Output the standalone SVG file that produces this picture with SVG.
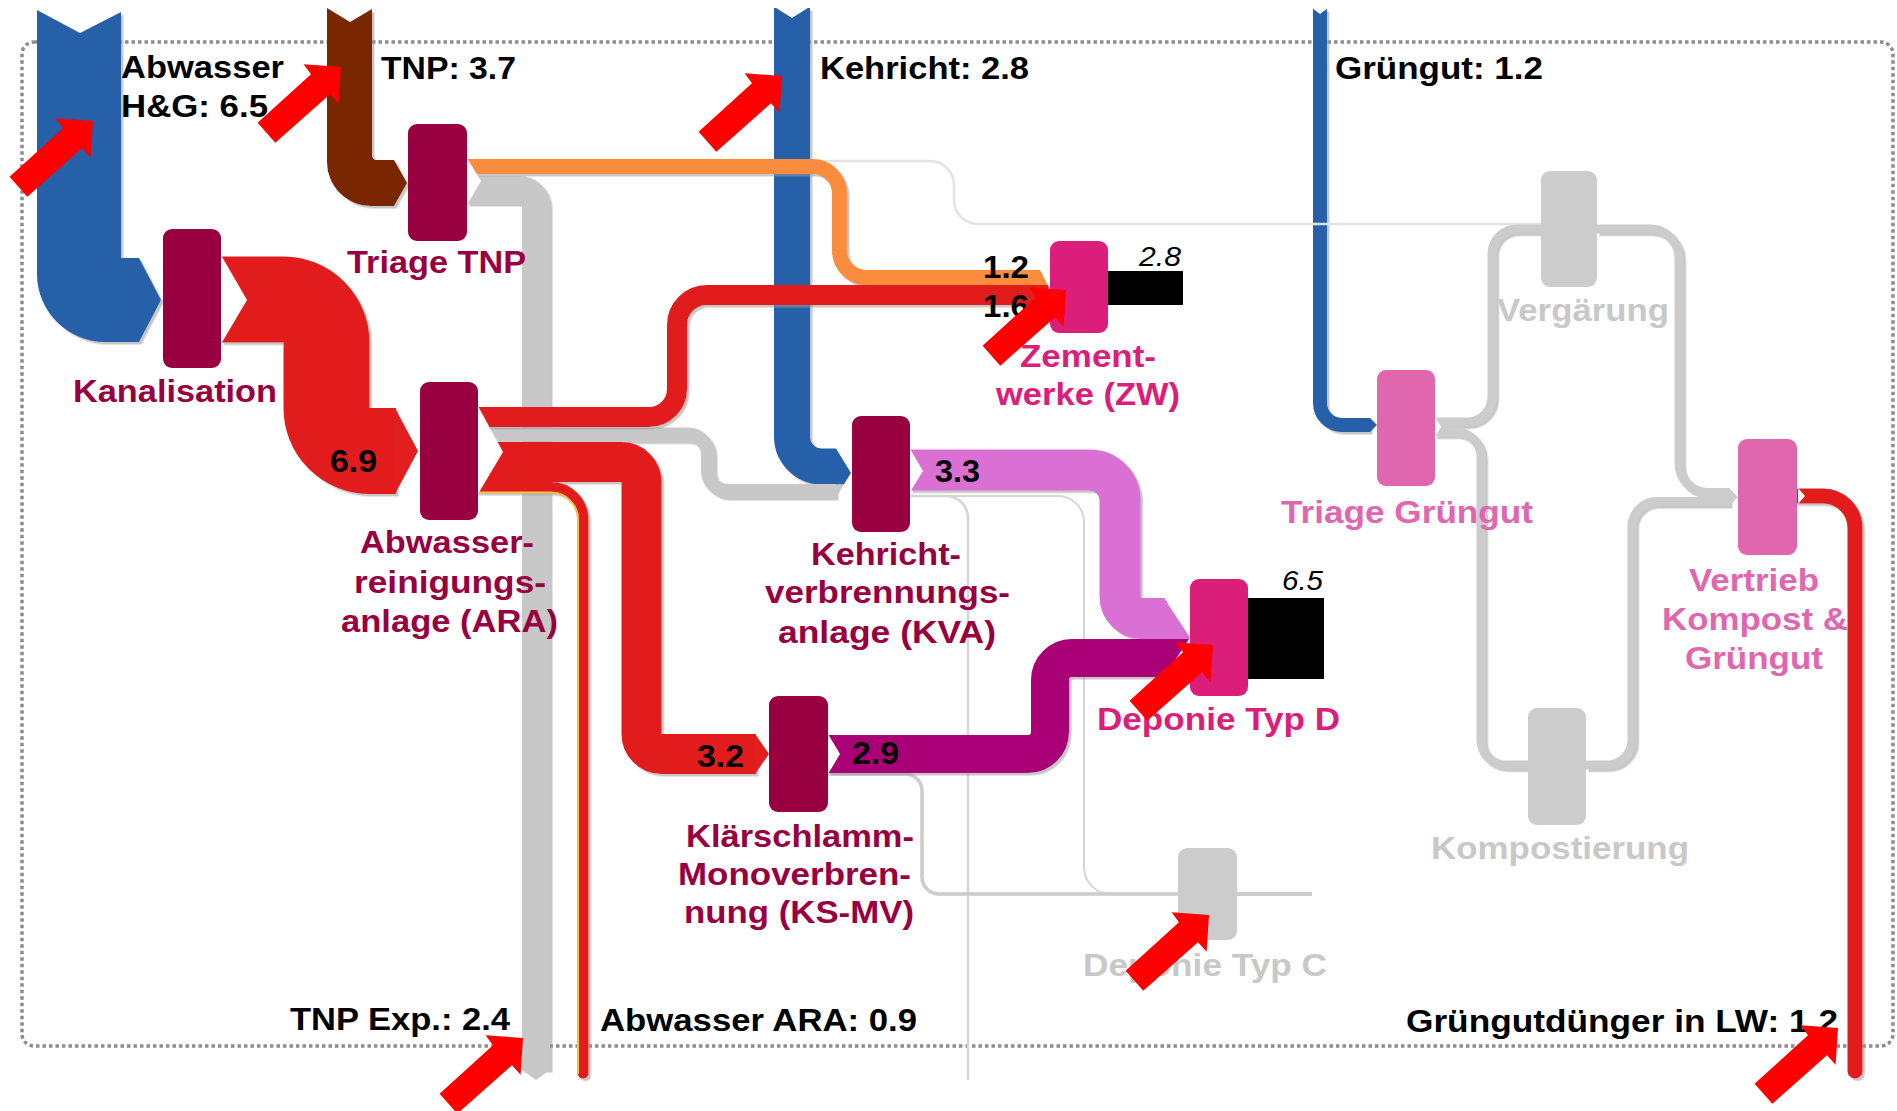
<svg xmlns="http://www.w3.org/2000/svg" width="1897" height="1111" viewBox="0 0 1897 1111">
<style>
text{font-family:"Liberation Sans",Arial,sans-serif;font-weight:bold;font-size:32px}
.blk{fill:#000}
.crm{fill:#99003f}
.mag{fill:#db1e79}
.pnk{fill:#e066ae}
.gry{fill:#c8c8c8}
.num{font-size:31px;fill:#000}
.it{font-size:28px;font-weight:normal;font-style:italic;fill:#000}
.nd-c{fill:#99003f}
.nd-m{fill:#db1e79}
.nd-p{fill:#e066ae}
.nd-g{fill:#cccccc}
.f{fill:none;stroke-linecap:butt;filter:url(#sh)}
.thin{fill:none}
.notch{fill:#fff}
.ra{fill:#ff0000}
</style>
<defs>
<filter id="sh" filterUnits="userSpaceOnUse" x="0" y="0" width="1897" height="1111">
<feDropShadow dx="2.5" dy="2.5" stdDeviation="0.6" flood-color="#9a9a9a" flood-opacity="0.55"/>
</filter>
<path id="arrow" d="M0,0 L-2.4,36.7 L-11,27.3 L-65.7,75.7 L-83.4,55.7 L-30,7.3 L-37.4,-2.7 Z"/>
</defs>
<rect width="1897" height="1111" fill="#fff"/>
<rect id="system-border" x="22" y="42" width="1871" height="1004" rx="12" fill="none" stroke="#8c8c8c" stroke-width="3.5" stroke-dasharray="3.5 3"/>

<g id="connectors">
<path class="f" d="M792,8 V436.5 A30,30 0 0 0 822,466.5 H836" stroke="#2660a8" stroke-width="36"/>
<path class="f" d="M1320,9 V403 A22,22 0 0 0 1342,425 H1370" stroke="#2660a8" stroke-width="14"/>
<polygon points="1370,418 1377,425 1370,432" fill="#2660a8"/>
<path class="thin" d="M811,161 H930 A24,24 0 0 1 954,185 V200 A24,24 0 0 0 978,224 H1541" stroke="#e3e3e3" stroke-width="2.5"/>
<path d="M37,10 L80,33 L121,12 L121,258 L139,258 L161,300 L139,342 L105,342 A68,68 0 0 1 37,274 Z" fill="#2660a8" filter="url(#sh)"/>
<path d="M327,8 L350,22 L372,9 L372,155 Q372,160 377,160 L394,160 L407,183 L394,206 L371,206 A44,44 0 0 1 327,162 Z" fill="#7a2800" filter="url(#sh)"/>
<path class="f" d="M467,190 H520 A16,16 0 0 1 536,206 V1070" stroke="#c8c8c8" stroke-width="28"/>
<polygon points="522,1070 536,1080 550,1070" fill="#c8c8c8"/>
<path class="f" d="M467,166.5 H812 A27,27 0 0 1 839.5,193.5 V250.5 A27,27 0 0 0 866.5,277.5 H1040" stroke="#f98c3c" stroke-width="15"/>
<path class="f" d="M221,299.5 H283.5 A43,43 0 0 1 326.5,342.5 V408 A43,43 0 0 0 369.5,451 H396" stroke="#e21e1e" stroke-width="86"/>
<polygon points="395,408 418,451 395,494" fill="#e21e1e"/>
<path class="f" d="M478,434.5 H688 A20,20 0 0 1 708,454.5 V471 A20,20 0 0 0 728,491 H836" stroke="#c8c8c8" stroke-width="14"/>
<path class="f" d="M478,417 H649 A28,28 0 0 0 677,389 V325 A30,30 0 0 1 707,295 H1040" stroke="#e21e1e" stroke-width="20"/>
<path class="f" d="M478,462 H621.5 A20,20 0 0 1 641.5,482 V734 A20,20 0 0 0 661.5,754 H756" stroke="#e21e1e" stroke-width="40"/>
<polygon points="755,734 769,754 755,774" fill="#e21e1e"/>
<path class="f" d="M478,487.5 H551 A32,32 0 0 1 583,519.5 V1073" stroke="#e21e1e" stroke-width="11" style="stroke-linecap:round"/>
<path class="thin" d="M478,492.5 H551 A27,27 0 0 1 578,519.5 V1074" stroke="#f5c242" stroke-width="2"/>
<polygon points="836,448.5 851,473 843.8,484.5 836,484.5" fill="#2660a8"/>
<polygon points="836,484.5 843.8,484.5 836,498" fill="#c8c8c8"/>
<polygon points="1040,270 1047.7,285 1040,285" fill="#f98c3c"/>
<polygon points="1040,285 1047.7,285 1049,287.5 1040,305" fill="#e21e1e"/>
<path class="thin" d="M910,496 H946 A22,22 0 0 1 968,518 V1080" stroke="#d5d5d5" stroke-width="2.5"/>
<path class="thin" d="M910,496 H1058 A26,26 0 0 1 1084,522 V867 A27,27 0 0 0 1111,894 H1178" stroke="#d5d5d5" stroke-width="2"/>
<path class="thin" d="M828,774 H905 A17,17 0 0 1 922,791 V877 A17,17 0 0 0 939,894 H1178" stroke="#cccccc" stroke-width="3.5"/>
<path class="thin" d="M1237,894 H1312" stroke="#cccccc" stroke-width="4"/>
<path class="f" d="M910,470 H1090 A30,30 0 0 1 1120,500 V596.5 A22,22 0 0 0 1142,618.5 H1165" stroke="#da70d4" stroke-width="41"/>
<path class="f" d="M828,754 H1028 A22,22 0 0 0 1050,732 V680 A22,22 0 0 1 1072,658 H1165" stroke="#aa0077" stroke-width="38"/>
<polygon points="1164,598 1190,637.5 1189,639 1164,639" fill="#da70d4"/>
<polygon points="1164,639 1189,639 1164,677" fill="#aa0077"/>
<path class="f" d="M1435,422 H1467 A25,25 0 0 0 1492,397 V254 A25,25 0 0 1 1517,229 H1541" stroke="#cccccc" stroke-width="9"/>
<path class="f" d="M1435,432 H1456 A25,25 0 0 1 1481,457 V740 A25,25 0 0 0 1506,765 H1528" stroke="#cccccc" stroke-width="9"/>
<path class="f" d="M1597,229 H1650 A29,29 0 0 1 1679,258 V463.5 A29,29 0 0 0 1708,492.5 H1730" stroke="#cccccc" stroke-width="9"/>
<path class="f" d="M1586,765 H1607 A25,25 0 0 0 1632,740 V526.5 A25,25 0 0 1 1657,501.5 H1730" stroke="#cccccc" stroke-width="9"/>
<polygon points="1729,488 1738,497 1729,506" fill="#cccccc"/>
<path class="f" d="M1798,496 H1823 A32,32 0 0 1 1855,528 V1071" stroke="#e21e1e" stroke-width="15" style="stroke-linecap:round"/>
<polygon class="notch" points="773,6 792,18 811,6"/>
<polygon class="notch" points="1312,8 1320,14 1328,8"/>
<polygon class="notch" points="221,255 247,300 221,344"/>
<polygon class="notch" points="467,158 481,181 467,205"/>
<polygon class="notch" points="478,406 503,452 478,494"/>
<polygon class="notch" points="910,449 923,471 910,492"/>
<polygon class="notch" points="828,734 840,754 828,774"/>
<polygon class="notch" points="1435,417 1441,427 1435,437"/>
<polygon class="notch" points="1798,488 1805,496 1798,504"/>
</g>

<g id="node-triage-tnp"><rect class="nd-c" x="408" y="124" width="59" height="117" rx="9"/>
<text class="crm" x="347" y="273" textLength="179" lengthAdjust="spacingAndGlyphs">Triage TNP</text></g>
<g id="node-kanalisation"><rect class="nd-c" x="163" y="229" width="58" height="139" rx="9"/>
<text class="crm" x="73" y="402" textLength="204" lengthAdjust="spacingAndGlyphs">Kanalisation</text></g>
<g id="node-ara"><rect class="nd-c" x="420" y="382" width="58" height="138" rx="9"/>
<text class="crm" x="360" y="553" textLength="174" lengthAdjust="spacingAndGlyphs">Abwasser-</text>
<text class="crm" x="354" y="593" textLength="192" lengthAdjust="spacingAndGlyphs">reinigungs-</text>
<text class="crm" x="341" y="632" textLength="217" lengthAdjust="spacingAndGlyphs">anlage (ARA)</text></g>
<g id="node-kva"><rect class="nd-c" x="852" y="416" width="58" height="116" rx="9"/>
<text class="crm" x="811" y="565" textLength="150" lengthAdjust="spacingAndGlyphs">Kehricht-</text>
<text class="crm" x="765" y="603" textLength="245" lengthAdjust="spacingAndGlyphs">verbrennungs-</text>
<text class="crm" x="778" y="643" textLength="218" lengthAdjust="spacingAndGlyphs">anlage (KVA)</text></g>
<g id="node-ksmv"><rect class="nd-c" x="769" y="696" width="59" height="116" rx="9"/>
<text class="crm" x="686" y="847" textLength="228" lengthAdjust="spacingAndGlyphs">Klärschlamm-</text>
<text class="crm" x="678" y="885" textLength="233" lengthAdjust="spacingAndGlyphs">Monoverbren-</text>
<text class="crm" x="684" y="923" textLength="230" lengthAdjust="spacingAndGlyphs">nung (KS-MV)</text></g>
<g id="node-zw"><rect class="nd-m" x="1050" y="241" width="58" height="92" rx="9"/>
<rect x="1108" y="271" width="75" height="34" fill="#000"/>
<text class="mag" x="1020" y="367" textLength="136" lengthAdjust="spacingAndGlyphs">Zement-</text>
<text class="mag" x="996" y="405" textLength="184" lengthAdjust="spacingAndGlyphs">werke (ZW)</text></g>
<g id="node-deponie-d"><rect class="nd-m" x="1190" y="579" width="58" height="117" rx="9"/>
<rect x="1248" y="598" width="76" height="81" fill="#000"/>
<text class="mag" x="1097" y="730" textLength="243" lengthAdjust="spacingAndGlyphs">Deponie Typ D</text></g>
<g id="node-deponie-c"><rect class="nd-g" x="1178" y="848" width="59" height="92" rx="9"/>
<text class="gry" x="1083" y="976" textLength="244" lengthAdjust="spacingAndGlyphs">Deponie Typ C</text></g>
<g id="node-triage-gruengut"><rect class="nd-p" x="1377" y="370" width="58" height="116" rx="9"/>
<text class="pnk" x="1281" y="523" textLength="252" lengthAdjust="spacingAndGlyphs">Triage Grüngut</text></g>
<g id="node-vergaerung"><rect class="nd-g" x="1541" y="171" width="56" height="116" rx="9"/>
<text class="gry" x="1497" y="321" textLength="172" lengthAdjust="spacingAndGlyphs">Vergärung</text></g>
<g id="node-kompostierung"><rect class="nd-g" x="1528" y="708" width="58" height="117" rx="9"/>
<text class="gry" x="1431" y="859" textLength="258" lengthAdjust="spacingAndGlyphs">Kompostierung</text></g>
<g id="node-vertrieb"><rect class="nd-p" x="1738" y="439" width="59" height="116" rx="9"/>
<text class="pnk" x="1689" y="591" textLength="130" lengthAdjust="spacingAndGlyphs">Vertrieb</text>
<text class="pnk" x="1662" y="630" textLength="186" lengthAdjust="spacingAndGlyphs">Kompost &amp;</text>
<text class="pnk" x="1685" y="669" textLength="138" lengthAdjust="spacingAndGlyphs">Grüngut</text></g>

<g id="flow-labels">
<text class="blk" x="121" y="78" textLength="163" lengthAdjust="spacingAndGlyphs">Abwasser</text>
<text class="blk" x="121" y="117" textLength="147" lengthAdjust="spacingAndGlyphs">H&amp;G: 6.5</text>
<text class="blk" x="381" y="79" textLength="135" lengthAdjust="spacingAndGlyphs">TNP: 3.7</text>
<text class="blk" x="820" y="79" textLength="209" lengthAdjust="spacingAndGlyphs">Kehricht: 2.8</text>
<text class="blk" x="1335" y="79" textLength="208" lengthAdjust="spacingAndGlyphs">Grüngut: 1.2</text>
<text class="blk" x="290" y="1030" textLength="220" lengthAdjust="spacingAndGlyphs">TNP Exp.: 2.4</text>
<text class="blk" x="600" y="1031" textLength="317" lengthAdjust="spacingAndGlyphs">Abwasser ARA: 0.9</text>
<text class="blk" x="1406" y="1032" textLength="432" lengthAdjust="spacingAndGlyphs">Grüngutdünger in LW: 1.2</text>
<text class="num" x="330" y="472" textLength="47" lengthAdjust="spacingAndGlyphs">6.9</text>
<text class="num" x="935" y="482" textLength="45" lengthAdjust="spacingAndGlyphs">3.3</text>
<text class="num" x="697" y="767" textLength="47" lengthAdjust="spacingAndGlyphs">3.2</text>
<text class="num" x="852" y="764" textLength="47" lengthAdjust="spacingAndGlyphs">2.9</text>
<text class="num" x="983" y="278" textLength="46" lengthAdjust="spacingAndGlyphs">1.2</text>
<text class="num" x="983" y="317" textLength="46" lengthAdjust="spacingAndGlyphs">1.6</text>
<text class="it" x="1139" y="266" textLength="42" lengthAdjust="spacingAndGlyphs">2.8</text>
<text class="it" x="1282" y="590" textLength="41" lengthAdjust="spacingAndGlyphs">6.5</text>
</g>

<g id="highlight-arrows" class="ra">
<use href="#arrow" transform="translate(93,121)"/>
<use href="#arrow" transform="translate(341,67)"/>
<use href="#arrow" transform="translate(782,76)"/>
<use href="#arrow" transform="translate(1066,290)"/>
<use href="#arrow" transform="translate(1213,645)"/>
<use href="#arrow" transform="translate(1209,915)"/>
<use href="#arrow" transform="translate(523,1038)"/>
<use href="#arrow" transform="translate(1838,1028)"/>
</g>
</svg>
